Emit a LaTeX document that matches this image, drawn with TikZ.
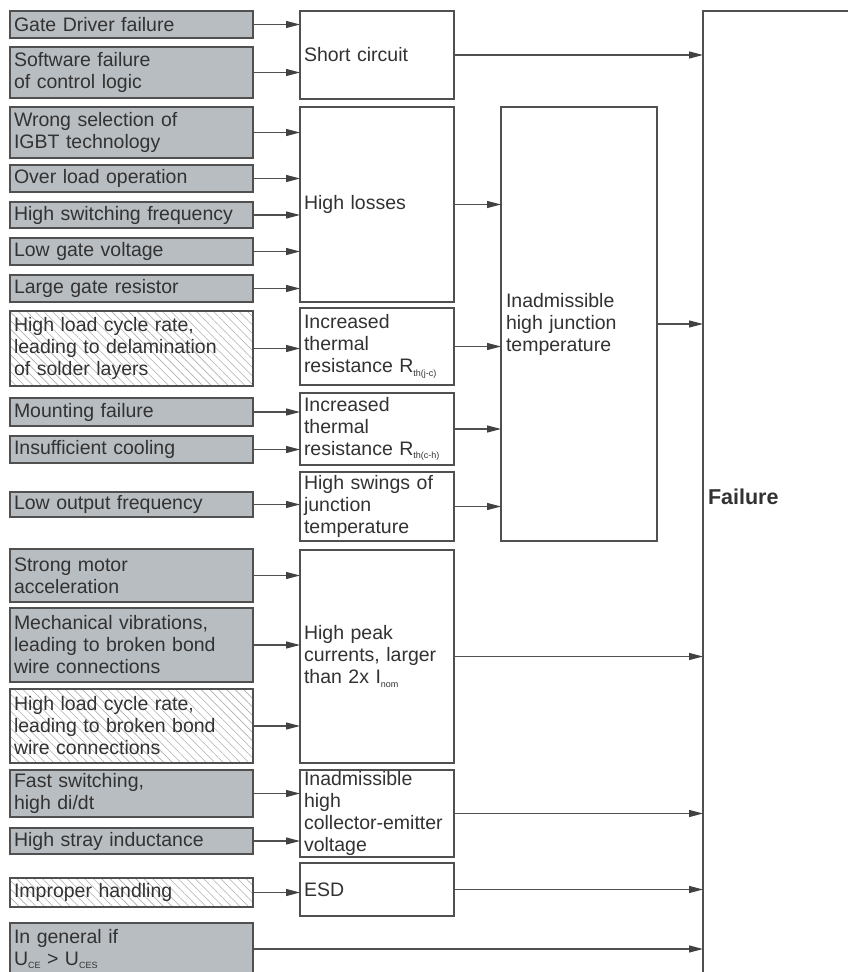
\documentclass[tikz,border=0pt]{standalone}
\usepackage{fontspec}
\setmainfont{Liberation Sans}
\usetikzlibrary{arrows.meta,patterns.meta}
\definecolor{causefill}{RGB}{184,189,193}
\definecolor{edgegray}{RGB}{80,80,80}
\definecolor{tipgray}{RGB}{65,65,65}
\definecolor{inkgray}{RGB}{50,50,50}
\definecolor{hatchgray}{RGB}{175,175,175}
% small lowered index for symbols such as R_th(j-c)
\newcommand\lowidx[1]{\raisebox{-0.35ex}{\fontsize{9}{9}\selectfont #1}}
\begin{document}
\begin{tikzpicture}[x=1pt,y=-1pt,
  font=\fontsize{19.5}{22}\selectfont,
  basebox/.style={rectangle, draw=edgegray, line width=1.2pt, text=inkgray,
    anchor=north west, inner xsep=4pt, inner ysep=0pt, outer sep=0pt, align=left},
  causebox/.style={basebox, fill=causefill, minimum width=243pt, text width=235pt, minimum height=#1},
  hatchbox/.style={basebox, pattern={Lines[angle=-45,distance=6pt,line width=0.6pt]},
    pattern color=hatchgray, minimum width=243pt, text width=235pt, minimum height=#1},
  midbox/.style={basebox, fill=white, minimum width=154pt, text width=146pt, minimum height=#1},
  arr/.style={draw=edgegray, line width=1.2pt, -{Triangle[length=14pt,width=7pt,color=tipgray]}}
]
\useasboundingbox (0,0) rectangle (847,972);

% causes
\node[causebox=27pt] (gd) at (10,11) {Gate Driver failure};
\node[causebox=51pt] (sw) at (10,47) {Software failure\\of control logic};
\node[causebox=51pt] (wr) at (10,107) {Wrong selection of\\IGBT technology};
\node[causebox=27pt] (ol) at (10,165) {Over load operation};
\node[causebox=26pt] (hs) at (10,202) {High switching frequency};
\node[causebox=27pt] (lg) at (10,238) {Low gate voltage};
\node[causebox=27pt] (lr) at (10,275) {Large gate resistor};
\node[hatchbox=75pt] (dl) at (10,311) {High load cycle rate,\\leading to delamination\\of solder layers};
\node[causebox=28pt] (mf) at (10,398) {Mounting failure};
\node[causebox=27pt] (ic) at (10,436) {Insufficient cooling};
\node[causebox=25pt] (lo) at (10,492) {Low output frequency};
\node[causebox=53pt] (sm) at (10,549) {Strong motor\\acceleration};
\node[causebox=74pt] (mv) at (10,608) {Mechanical vibrations,\\leading to broken bond\\wire connections};
\node[hatchbox=74pt] (hb) at (10,689) {High load cycle rate,\\leading to broken bond\\wire connections};
\node[causebox=47pt] (fs) at (10,770) {Fast switching,\\high di/dt};
\node[causebox=26pt] (st) at (10,828) {High stray inductance};
\node[hatchbox=29pt] (ih) at (10,878) {Improper handling};
\node[causebox=52pt] (ig) at (10,923) {In general if\\U\lowidx{CE} > U\lowidx{CES}};

% intermediate effects
\node[midbox=88pt] (sc) at (300,11) {Short circuit};
\node[midbox=195pt] (hl) at (300,107) {High losses};
\node[midbox=77pt] (rjc) at (300,308) {Increased\\thermal\\resistance R\lowidx{th(j-c)}};
\node[midbox=72pt] (rch) at (300,393) {Increased\\thermal\\resistance R\lowidx{th(c-h)}};
\node[midbox=69pt] (hsw) at (300,472) {High swings of\\junction\\temperature};
\node[midbox=213pt] (hp) at (300,550) {High peak\\currents, larger\\than 2x I\lowidx{nom}};
\node[midbox=87pt] (ce) at (300,770) {Inadmissible\\high\\collector-emitter\\voltage};
\node[midbox=53pt] (esd) at (300,863) {ESD};

\node[basebox, fill=white, minimum width=155pt, text width=146pt, minimum height=434pt, inner xsep=5pt]
  (hjt) at (501,107) {Inadmissible\\high junction\\temperature};

\node[basebox, fill=white, minimum width=150pt, text width=140pt, minimum height=972pt, inner xsep=5pt,
  font=\fontsize{21.5}{24}\selectfont\bfseries] (fail) at (703,11) {Failure};

% connectors
\foreach \a/\b in {gd/sc, sw/sc, wr/hl, ol/hl, hs/hl, lg/hl, lr/hl, dl/rjc, mf/rch, ic/rch,
                   lo/hsw, sm/hp, mv/hp, hb/hp, fs/ce, st/ce, ih/esd,
                   hl/hjt, rjc/hjt, rch/hjt, hsw/hjt,
                   sc/fail, hjt/fail, hp/fail, ce/fail, esd/fail, ig/fail}
  \draw[arr] (\a.east) -- (\a.east -| \b.west);
\end{tikzpicture}
\end{document}
